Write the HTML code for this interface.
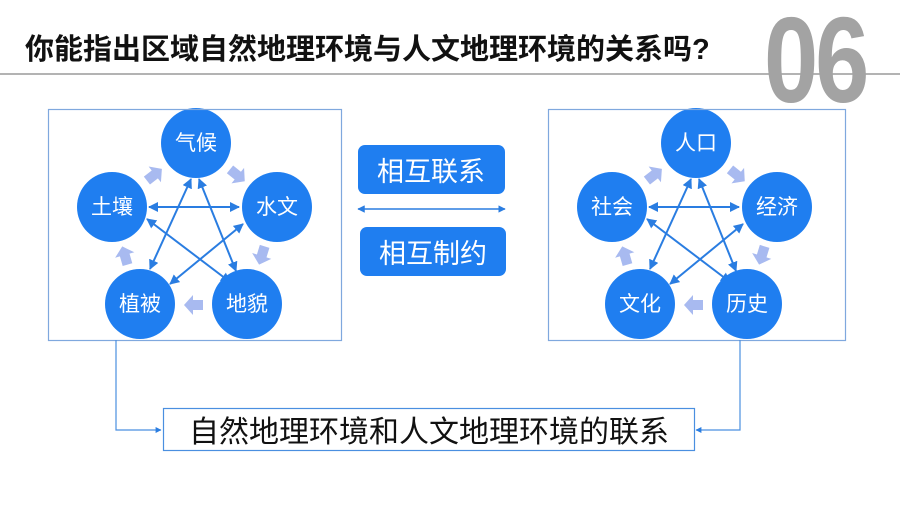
<!DOCTYPE html>
<html><head><meta charset="utf-8"><style>
body{margin:0;width:900px;height:506px;background:#fff;overflow:hidden;font-family:"Liberation Sans","Noto Sans CJK SC",sans-serif}
svg{position:absolute;left:0;top:0}
.t{font-family:"Liberation Sans","Noto Sans CJK SC",sans-serif}
</style></head><body>
<svg width="900" height="506" viewBox="0 0 900 506">
<defs>
<marker id="a" viewBox="0 0 10 10" refX="9" refY="5" markerWidth="5" markerHeight="5" orient="auto-start-reverse"><path d="M0,0 L10,5 L0,10 z" fill="#2a7de1"/></marker>
<g id="pa"><polygon points="-9,-5 1,-5 1,-10 10,0 1,10 1,5 -9,5" fill="#a8baf0"/></g>
</defs>
<line x1="0" y1="74" x2="900" y2="74" stroke="#9a9a9a" stroke-width="1.5"/>
<text x="25" y="59" font-size="29" font-weight="bold" fill="#111" class="t">你能指出区域自然地理环境与人文地理环境的关系吗?</text>
<text x="0" y="0" font-size="122" font-weight="bold" fill="#a3a3a3" transform="translate(764,102) scale(0.8,1)" class="t" letter-spacing="-4">06</text>

<g id="L">
<g stroke="#2a7de1" stroke-width="2" marker-start="url(#a)" marker-end="url(#a)">
<line x1="149" y1="207" x2="239" y2="207"/>
<line x1="199" y1="179" x2="236" y2="271"/>
<line x1="191" y1="179" x2="150" y2="269"/>
<line x1="243" y1="224" x2="170" y2="284"/>
<line x1="147" y1="219" x2="230" y2="282"/>
</g>
<use href="#pa" transform="translate(154,175) rotate(-38)"/>
<use href="#pa" transform="translate(237,175) rotate(39)"/>
<use href="#pa" transform="translate(262,255) rotate(107)"/>
<use href="#pa" transform="translate(194,305) rotate(180)"/>
<use href="#pa" transform="translate(125,256) rotate(-106)"/>
<g fill="#1f7ef0">
<circle cx="196" cy="143" r="35"/><circle cx="277" cy="207" r="35"/><circle cx="247" cy="304" r="35"/><circle cx="140" cy="304" r="35"/><circle cx="112" cy="207" r="35"/>
</g>
</g>
<rect x="48.5" y="109.5" width="293" height="231" fill="none" stroke="#7fa8de" stroke-width="1.2"/>
<g fill="#fff" font-size="21" text-anchor="middle" class="t">
<text x="196" y="150">气候</text><text x="277" y="214">水文</text><text x="247" y="311">地貌</text><text x="140" y="311">植被</text><text x="112" y="214">土壤</text>
</g>
<use href="#L" transform="translate(500,0)"/>
<rect x="548.5" y="109.5" width="297" height="231" fill="none" stroke="#7fa8de" stroke-width="1.2"/>
<g fill="#fff" font-size="21" text-anchor="middle" class="t">
<text x="696" y="150">人口</text><text x="777" y="214">经济</text><text x="747" y="311">历史</text><text x="640" y="311">文化</text><text x="612" y="214">社会</text>
</g>

<rect x="358" y="145" width="147" height="49" rx="7" fill="#1f7ef0"/>
<rect x="360" y="227" width="146" height="49" rx="7" fill="#1f7ef0"/>
<text x="431" y="181" font-size="27" fill="#fff" text-anchor="middle" class="t">相互联系</text>
<text x="433" y="263" font-size="27" fill="#fff" text-anchor="middle" class="t">相互制约</text>
<line x1="358" y1="209" x2="505" y2="209" stroke="#2a7de1" stroke-width="1.5" marker-start="url(#a)" marker-end="url(#a)"/>

<rect x="163.5" y="408.5" width="531" height="42" fill="#fff" stroke="#4a8fe0" stroke-width="1.2"/>
<text x="429" y="442" font-size="30" fill="#111" text-anchor="middle" class="t">自然地理环境和人文地理环境的联系</text>
<polyline points="116,340 116,430 161,430" fill="none" stroke="#4a8fe0" stroke-width="1.2" marker-end="url(#a)"/>
<polyline points="740,340 740,430 696,430" fill="none" stroke="#4a8fe0" stroke-width="1.2" marker-end="url(#a)"/>
</svg>
</body></html>
